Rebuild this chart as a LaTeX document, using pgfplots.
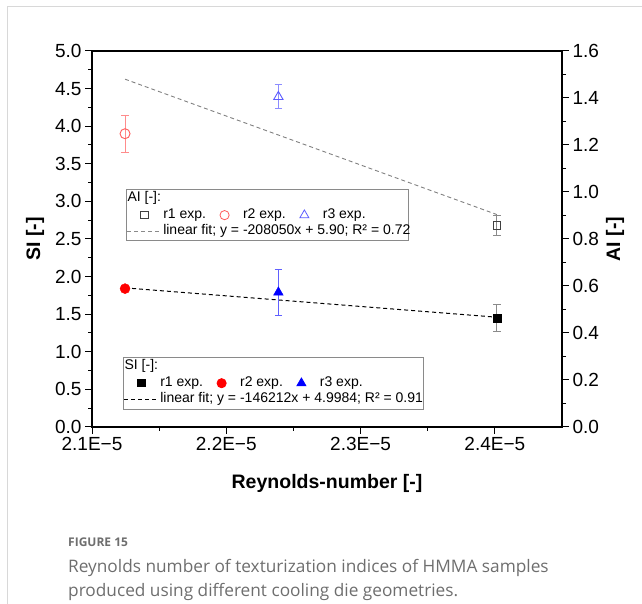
\documentclass[border=0pt]{standalone}
\usepackage{pgfplots}
\pgfplotsset{compat=1.18}
\usepackage{fontspec}
\setmainfont{Liberation Sans}
\newfontfamily\capfont{Open Sans}
\definecolor{framegray}{HTML}{D8D8D8}
\definecolor{legendgray}{HTML}{8A8A8A}
\definecolor{capgray}{HTML}{6E6E6E}
\definecolor{aired}{HTML}{FF5C5C}
\definecolor{airedlight}{HTML}{FF8C8C}
\definecolor{aiblue}{HTML}{5C5CFF}
\definecolor{aibluelight}{HTML}{8C8CFF}
\definecolor{aigray}{HTML}{404040}
\definecolor{errgray}{HTML}{8A8A8A}
\definecolor{siblueerr}{HTML}{6060FF}
\pgfplotsset{
  mk legend/.style={legend image code/.code={%
      \path[draw=none, fill=none] (0pt,-0.5pt) rectangle (34pt,0.5pt);
      \draw[##1] plot coordinates {(17pt,0pt)};}},
  ln legend/.style={legend image code/.code={%
      \draw[##1] (0pt,0pt) -- (34pt,0pt);}},
  myaxis/.style={
    at={(92pt,177pt)}, anchor=south west,
    scale only axis, width=470pt, height=376pt,
    xmin=2.1, xmax=2.45,
    tick align=outside,
    major tick length=7pt, minor tick length=4pt,
    tick style={black, line width=1pt},
    axis line style={line width=1.1pt},
    ticklabel style={font=\fontsize{19}{22}\selectfont},
    label style={font=\bfseries\fontsize{19.5}{22}\selectfont},
    minor y tick num=1,
  },
  mylegend/.style={
    legend columns=3, legend cell align=left,
    legend style={draw=legendgray, line width=0.8pt, fill=white,
      inner xsep=0.5pt, inner ysep=1pt, anchor=north west,
      font=\fontsize{14}{16}\selectfont,
      nodes={inner sep=1.5pt, text height=10pt, text depth=3.5pt},
      /tikz/column sep=0pt},
  },
}
\begin{document}
\begin{tikzpicture}[x=1pt,y=1pt]
\useasboundingbox (0,0) rectangle (642,604);
\draw[color=framegray, line width=1pt] (7,0) -- (7,597) -- (642,597);

% ---------- SI axis (left) ----------
\begin{axis}[myaxis, mylegend,
  ymin=0, ymax=5,
  xtick={2.1,2.2,2.3,2.4},
  xticklabels={2.1E−5,2.2E−5,2.3E−5,2.4E−5},
  minor x tick num=1,
  ytick={0,0.5,1,1.5,2,2.5,3,3.5,4,4.5,5},
  yticklabels={0.0,0.5,1.0,1.5,2.0,2.5,3.0,3.5,4.0,4.5,5.0},
  xtick pos=bottom, ytick pos=left,
  xlabel={Reynolds-number [-]}, ylabel={SI [-]},
  xlabel style={at={(axis description cs:0.5,-0.149)}, anchor=center},
  ylabel style={at={(axis description cs:-0.121,0.5)}, anchor=center},
  legend style={at={(axis description cs:0.066,0.186)}},
]
\addlegendimage{empty legend}
\addlegendentry{\hspace*{-36pt}SI [-]:}
\addlegendimage{empty legend}
\addlegendentry{\mbox{}}
\addlegendimage{empty legend}
\addlegendentry{\mbox{}}
\addlegendimage{mk legend, only marks, mark=square*, black, mark size=3.6pt}
\addlegendentry{r1 exp.}
\addlegendimage{mk legend, only marks, mark=*, red, mark size=4.6pt}
\addlegendentry{r2 exp.}
\addlegendimage{mk legend, only marks, mark=triangle*, blue, mark size=5.2pt}
\addlegendentry{\makebox[101pt][l]{r3 exp.}}
\addlegendimage{ln legend, black, line width=0.9pt, dash pattern=on 4pt off 3pt}
\addlegendentry{\rlap{linear fit; y = -146212x + 4.9984; R² = 0.91}}
\addlegendimage{empty legend}
\addlegendentry{\mbox{}}
\addlegendimage{empty legend}
\addlegendentry{\mbox{}}

% fit
\addplot[forget plot, black, line width=1pt, dash pattern=on 4pt off 3pt]
  coordinates {(2.1246,1.85) (2.4015,1.46)};
% r1
\addplot[forget plot, only marks, mark=square*, black, mark size=3.9pt,
  error bars/.cd, y dir=both, y explicit,
  error bar style={errgray, line width=0.8pt},
  error mark options={rotate=90, errgray, mark size=3.8pt, line width=0.8pt}]
  coordinates {(2.4015,1.45) +- (0,0.175)};
% r2
\addplot[forget plot, only marks, mark=*, red, mark size=5pt]
  coordinates {(2.1246,1.84)};
% r3
\addplot[forget plot, only marks, mark=triangle*, blue, mark size=5.6pt,
  error bars/.cd, y dir=both, y explicit,
  error bar style={siblueerr, line width=0.8pt},
  error mark options={rotate=90, siblueerr, mark size=3.8pt, line width=0.8pt}]
  coordinates {(2.2388,1.79) +- (0,0.305)};
\end{axis}

% ---------- AI axis (right) ----------
\begin{axis}[myaxis, mylegend,
  ymin=0, ymax=1.6,
  hide x axis, axis y line*=right,
  ytick={0,0.2,0.4,0.6,0.8,1.0,1.2,1.4,1.6},
  yticklabels={0.0,0.2,0.4,0.6,0.8,1.0,1.2,1.4,1.6},
  ylabel={AI [-]},
  ylabel style={at={(axis description cs:1.113,0.5)}, anchor=center},
  legend style={at={(axis description cs:0.0723,0.633)}},
]
\addlegendimage{empty legend}
\addlegendentry{\hspace*{-36pt}AI [-]:}
\addlegendimage{empty legend}
\addlegendentry{\mbox{}}
\addlegendimage{empty legend}
\addlegendentry{\mbox{}}
\addlegendimage{mk legend, only marks, mark=square, aigray, mark size=3.6pt, line width=0.8pt}
\addlegendentry{r1 exp.}
\addlegendimage{mk legend, only marks, mark=o, aired, mark size=4.6pt, line width=0.8pt}
\addlegendentry{r2 exp.}
\addlegendimage{mk legend, only marks, mark=triangle, aiblue, mark size=5.2pt, line width=0.8pt}
\addlegendentry{\makebox[84pt][l]{r3 exp.}}
\addlegendimage{ln legend, errgray, line width=0.9pt, dash pattern=on 4pt off 3pt}
\addlegendentry{\rlap{linear fit; y = -208050x + 5.90; R² = 0.72}}
\addlegendimage{empty legend}
\addlegendentry{\mbox{}}
\addlegendimage{empty legend}
\addlegendentry{\mbox{}}

% fit
\addplot[forget plot, gray, line width=0.9pt, dash pattern=on 4pt off 3pt]
  coordinates {(2.1246,1.480) (2.4015,0.904)};
% r1
\addplot[forget plot, only marks, mark=square, aigray, fill=white, mark size=3.8pt,
  mark options={fill=white, line width=0.8pt},
  error bars/.cd, y dir=both, y explicit,
  error bar style={errgray, line width=0.8pt},
  error mark options={rotate=90, errgray, mark size=3.8pt, line width=0.8pt}]
  coordinates {(2.4015,0.858) +- (0,0.042)};
% r2
\addplot[forget plot, only marks, mark=o, aired, mark size=5pt,
  mark options={fill=white, line width=0.9pt},
  error bars/.cd, y dir=both, y explicit,
  error bar style={airedlight, line width=0.8pt},
  error mark options={rotate=90, airedlight, mark size=3.8pt, line width=0.8pt}]
  coordinates {(2.1246,1.248) +- (0,0.080)};
% r3
\addplot[forget plot, only marks, mark=triangle, aiblue, mark size=5.4pt,
  mark options={fill=white, line width=0.9pt},
  error bars/.cd, y dir=both, y explicit,
  error bar style={aibluelight, line width=0.8pt},
  error mark options={rotate=90, aibluelight, mark size=3.8pt, line width=0.8pt}]
  coordinates {(2.2388,1.405) +- (0,0.051)};
\end{axis}

% ---------- caption ----------
\node[anchor=base west, inner sep=0pt, text=capgray,
  font=\capfont\bfseries\fontsize{12}{14}\selectfont] at (68,57) {FIGURE 15};
\node[anchor=base west, inner sep=0pt, text=capgray,
  font=\capfont\fontsize{17.25}{20}\selectfont] at (68,31)
  {Reynolds number of texturization indices of HMMA samples};
\node[anchor=base west, inner sep=0pt, text=capgray,
  font=\capfont\fontsize{17.25}{20}\selectfont] at (68,7)
  {produced using different cooling die geometries.};
\end{tikzpicture}
\end{document}
